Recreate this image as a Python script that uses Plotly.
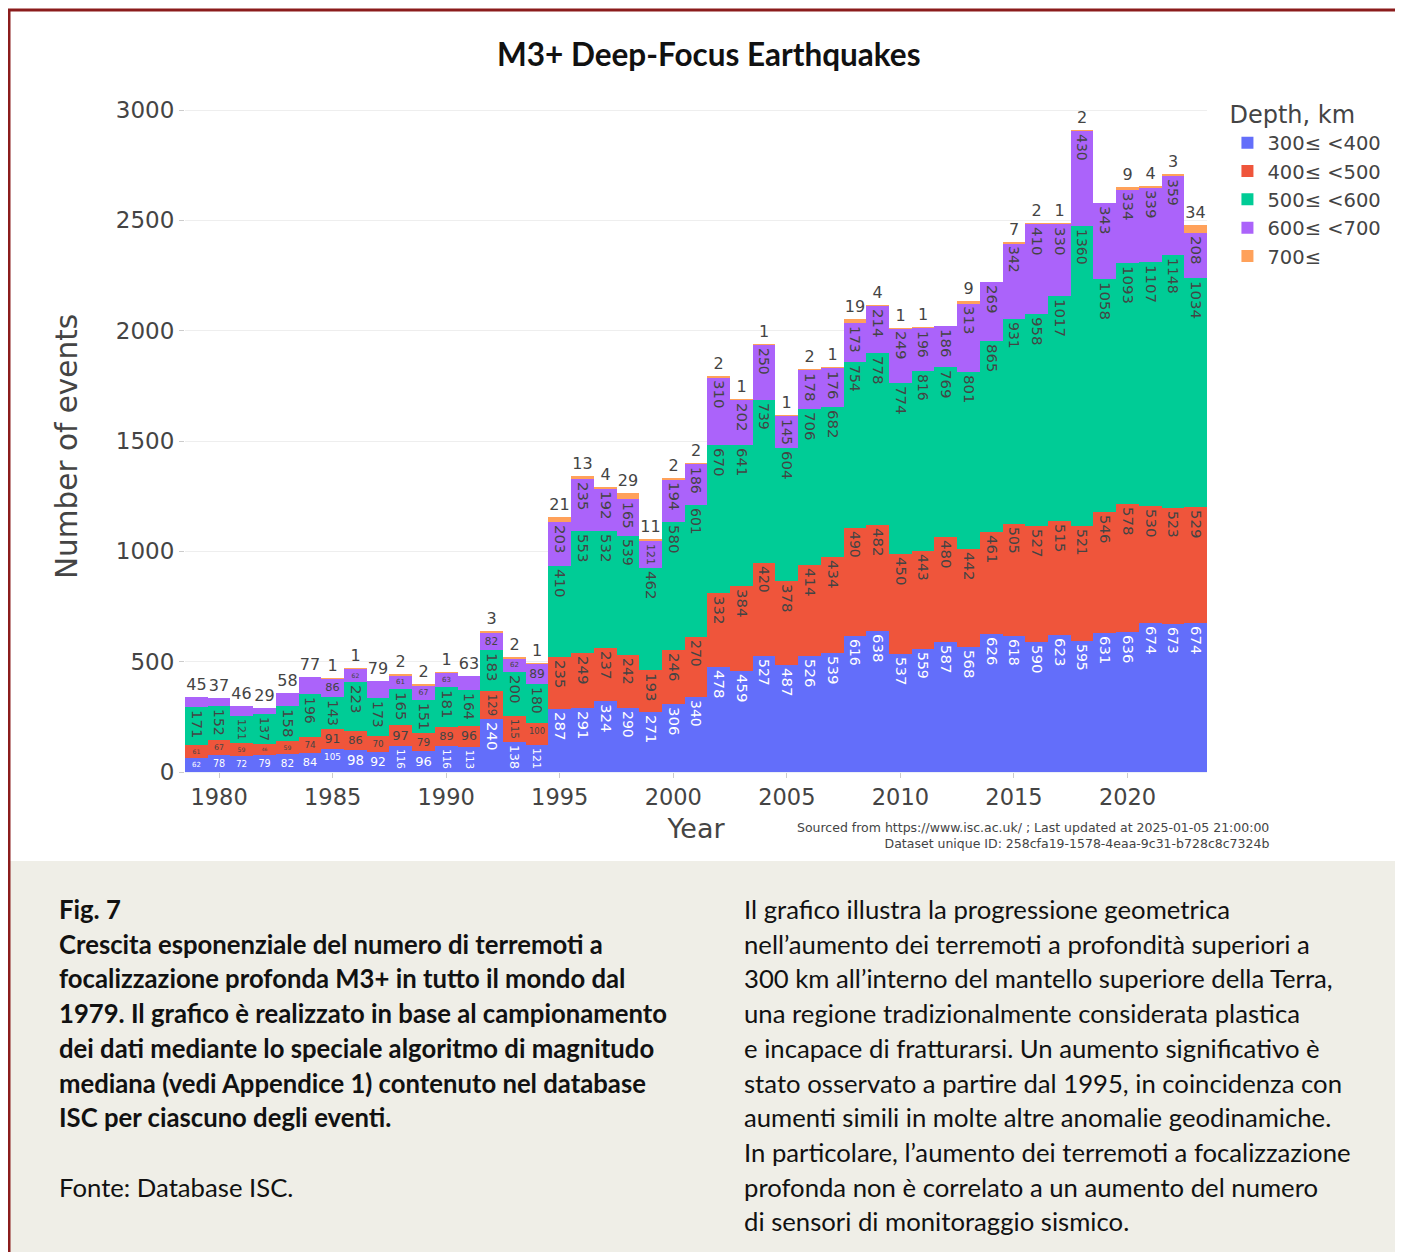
import plotly.graph_objects as go

# anni e conteggi per classe di profondità
years = list(range(1979, 2024))
d300 = [62, 78, 72, 79, 82, 84, 105, 98, 92, 116, 96, 116, 113, 240, 138, 121,
        287, 291, 324, 290, 271, 306, 340, 478, 459, 527, 487, 526, 539, 616,
        638, 537, 559, 587, 568, 626, 618, 590, 623, 595, 631, 636, 674, 673, 674]
d400 = [61, 67, 59, 46, 59, 74, 91, 86, 70, 97, 79, 89, 96, 129, 115, 100,
        235, 249, 237, 242, 193, 246, 270, 332, 384, 420, 378, 414, 434, 490,
        482, 450, 443, 480, 442, 461, 505, 527, 515, 521, 546, 578, 530, 523, 529]
d500 = [171, 152, 121, 137, 158, 196, 143, 223, 173, 165, 151, 181, 164, 183, 200, 180,
        410, 553, 532, 539, 462, 580, 601, 670, 641, 739, 604, 706, 682, 754,
        778, 774, 816, 769, 801, 865, 931, 958, 1017, 1360, 1058, 1093, 1107, 1148, 1034]
d600 = [45, 37, 46, 29, 58, 77, 86, 62, 79, 61, 67, 63, 63, 82, 62, 89,
        203, 235, 192, 165, 121, 194, 186, 310, 202, 250, 145, 178, 176, 173,
        214, 249, 196, 186, 313, 269, 342, 410, 330, 430, 343, 334, 339, 359, 208]
d700 = [None, None, None, None, None, None, 1, 1, None, 2, 2, 1, None, 3, 2, 1,
        21, 13, 4, 29, 11, 2, 2, 2, 1, 1, 1, 2, 1, 19,
        4, 1, 1, None, 9, None, 7, 2, 1, 2, None, 9, 4, 3, 34]

series = [("300≤ <400", d300, "#636efa"),
          ("400≤ <500", d400, "#EF553B"),
          ("500≤ <600", d500, "#00cc96"),
          ("600≤ <700", d600, "#ab63fa"),
          ("700≤", d700, "#FFA15A")]

fig = go.Figure()
for name, vals, col in series:
    fig.add_trace(go.Bar(
        x=years, y=vals, name=name, marker_color=col, marker_line_width=0,
        text=["" if v is None else str(v) for v in vals], textposition="auto",
        outsidetextfont=dict(size=16)))

# la pagina html ha 8px di margine: tutte le misure sono sul riferimento meno 8
OFF = 8
FW, FH = 1403 - OFF, 1252 - OFF
L, R, T, B = 185 - OFF, 1207 - OFF, 99 - OFF, 772 - OFF
W, H = R - L, B - T
def px_x(p):
    return (p - OFF - L) / W
def px_y(p):
    return (B - (p - OFF)) / H

fig.update_layout(
    template="plotly_white",
    width=FW, height=FH,
    margin=dict(l=L, r=FW - R, t=T, b=FH - B),
    barmode="stack", bargap=0,
    paper_bgcolor="white", plot_bgcolor="white",
    font=dict(family="DejaVu Sans", size=21, color="#444"),
    legend=dict(title=dict(text="Depth, km", font=dict(size=24)), font=dict(size=19.5),
                traceorder="normal", y=1.01),
    xaxis=dict(title=dict(text="Year", font=dict(size=27), standoff=10),
               dtick=5, ticks="outside", ticklen=5, tickcolor="#cccccc",
               tickfont=dict(size=22.5), showgrid=False),
    yaxis=dict(range=[0, 3050], dtick=500, ticks="outside", ticklen=5,
               tickcolor="#cccccc", tickfont=dict(size=23), gridcolor="#eeeeee"),
)

shapes = [
    dict(type="rect", xref="paper", yref="paper", x0=px_x(10), x1=px_x(1410),
         y0=px_y(861), y1=px_y(1260), fillcolor="#efeee7", line_width=0, layer="below"),
    dict(type="line", xref="paper", yref="paper", x0=px_x(8), x1=px_x(1410),
         y0=px_y(10), y1=px_y(10), line=dict(color="#8b1c1c", width=3)),
    dict(type="line", xref="paper", yref="paper", x0=px_x(9), x1=px_x(9),
         y0=px_y(10), y1=px_y(1260), line=dict(color="#8b1c1c", width=3)),
]
fig.update_layout(shapes=shapes)

ann = [
    dict(text="<b>M3+ Deep-Focus Earthquakes</b>", x=px_x(709), y=px_y(54),
         xanchor="center", yanchor="middle", font=dict(family="Lato", size=31.5, color="#111")),
    dict(text="Number of events", x=px_x(67), y=px_y(447), textangle=-90,
         xanchor="center", yanchor="middle", font=dict(family="DejaVu Sans", size=29.5, color="#444")),
    dict(text="Sourced from https://www.isc.ac.uk/ ; Last updated at 2025-01-05 21:00:00<br>"
              "Dataset unique ID: 258cfa19-1578-4eaa-9c31-b728c8c7324b",
         x=px_x(1271), y=px_y(835), xanchor="right", yanchor="middle", align="right",
         font=dict(family="DejaVu Sans", size=12.5, color="#444")),
]

left_lines = ["<b>Fig. 7</b>",
              "<b>Crescita esponenziale del numero di terremoti a</b>",
              "<b>focalizzazione profonda M3+ in tutto il mondo dal</b>",
              "<b>1979. Il grafico è realizzato in base al campionamento</b>",
              "<b>dei dati mediante lo speciale algoritmo di magnitudo</b>",
              "<b>mediana (vedi Appendice 1) contenuto nel database</b>",
              "<b>ISC per ciascuno degli eventi.</b>",
              "",
              "Fonte: Database ISC."]
right_lines = ["Il grafico illustra la progressione geometrica",
               "nell’aumento dei terremoti a profondità superiori a",
               "300 km all’interno del mantello superiore della Terra,",
               "una regione tradizionalmente considerata plastica",
               "e incapace di fratturarsi. Un aumento significativo è",
               "stato osservato a partire dal 1995, in coincidenza con",
               "aumenti simili in molte altre anomalie geodinamiche.",
               "In particolare, l’aumento dei terremoti a focalizzazione",
               "profonda non è correlato a un aumento del numero",
               "di sensori di monitoraggio sismico."]
for i, t in enumerate(left_lines):
    if t:
        ann.append(dict(text=t, x=px_x(57), y=px_y(909 + 34.7 * i), xanchor="left",
                        yanchor="middle", font=dict(family="Lato", size=25.7, color="#111")))
for i, t in enumerate(right_lines):
    ann.append(dict(text=t, x=px_x(742), y=px_y(909 + 34.7 * i), xanchor="left",
                    yanchor="middle", font=dict(family="Lato", size=25.7, color="#111")))
for a in ann:
    a.update(xref="paper", yref="paper", showarrow=False)
fig.update_layout(annotations=ann)

fig.write_html("out.html")
